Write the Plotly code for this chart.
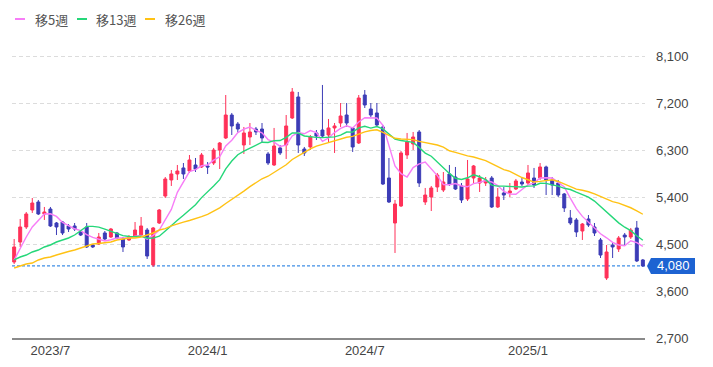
import pandas as pd
import plotly.graph_objects as go

# ---------------- data (weekly candles) ----------------
dates = pd.date_range("2023-05-22", periods=105, freq="7D")

opens = [4155, 4538, 4826, 5151, 5304, 5075, 5170, 4902, 4921, 4845,
         4845, 4730, 4826, 4481, 4500, 4711, 4634, 4711, 4596, 4577,
         4653, 4672, 4768, 4098, 4902, 5419, 5726, 5841, 5956, 5898,
         6013, 5975, 5994, 6051, 6300, 6530, 6970, 6798, 6396, 6549,
         6702, 6702, 6224, 6013, 6339, 6396, 6913, 7315, 6319, 6358,
         6626, 6683, 6587, 6722, 6817, 6970, 6722, 6434, 7353, 7085,
         7009, 6741, 5764, 4902, 5228, 6204, 6415, 6645, 5304, 5400,
         5592, 5534, 5841, 5783, 5611, 5362, 5764, 5668, 5668, 5764,
         5209, 5477, 5477, 5553, 5687, 5668, 5764, 5764, 5975, 5726,
         5668, 5458, 4998, 4960, 4749, 4979, 4826, 4577, 3849, 4481,
         4404, 4672, 4634, 4807, 4194]
highs = [4596, 4979, 5113, 5381, 5343, 5209, 5209, 4921, 4941, 4883,
         4902, 4768, 4902, 4500, 4711, 4749, 4807, 4730, 4634, 4672,
         4921, 5017, 4807, 4826, 5170, 5783, 5917, 6013, 6051, 6204,
         6147, 6243, 6070, 6339, 6453, 7353, 7009, 6836, 6741, 6817,
         6741, 6817, 6262, 6722, 6396, 6970, 7487, 7411, 6358, 6587,
         6683, 7545, 6894, 6817, 7200, 7200, 6741, 7353, 7449, 7200,
         7200, 6779, 6147, 5343, 6281, 6626, 6645, 6683, 5573, 5611,
         5860, 5879, 6013, 5975, 5668, 6109, 6013, 5821, 5783, 5802,
         5573, 5592, 5668, 5745, 5783, 6013, 5956, 6051, 6000, 5783,
         5726, 5477, 5151, 4998, 4902, 5055, 4902, 4615, 4481, 4519,
         4653, 4711, 4807, 4941, 4213]
lows = [4117, 4443, 4787, 5094, 5055, 4960, 4826, 4672, 4672, 4730,
        4749, 4653, 4424, 4424, 4481, 4577, 4615, 4596, 4347, 4558,
        4634, 4634, 4213, 4060, 4883, 5381, 5611, 5726, 5745, 5860,
        5879, 5956, 5841, 6013, 5936, 6511, 6587, 6626, 6224, 6396,
        6587, 6453, 6013, 5994, 6204, 6128, 6894, 6243, 6185, 6300,
        6492, 6530, 6453, 6243, 6741, 6741, 6262, 6415, 7104, 6932,
        6760, 5630, 5285, 4328, 5209, 6128, 6300, 5592, 5247, 5132,
        5496, 5496, 5611, 5534, 5285, 5324, 5668, 5496, 5611, 5190,
        5190, 5343, 5400, 5534, 5611, 5630, 5573, 5726, 5438, 5438,
        5400, 5113, 4864, 4634, 4577, 4826, 4653, 4232, 3811, 4232,
        4347, 4481, 4596, 4155, 4060]
closes = [4443, 4826, 5075, 5285, 5075, 5113, 4845, 4826, 4711, 4787,
          4787, 4672, 4443, 4443, 4634, 4596, 4787, 4615, 4443, 4634,
          4768, 4845, 4270, 4807, 5151, 5745, 5841, 5898, 5841, 6109,
          5936, 6204, 5975, 6300, 6434, 6970, 6760, 6702, 6626, 6645,
          6645, 6530, 6051, 6377, 6243, 6760, 7411, 6396, 6243, 6549,
          6568, 6568, 6722, 6760, 6951, 6817, 6358, 7296, 7162, 6970,
          6779, 5649, 5304, 5266, 6243, 6453, 6549, 5668, 5438, 5573,
          5821, 5687, 5649, 5553, 5343, 5745, 5994, 5764, 5726, 5209,
          5400, 5438, 5515, 5707, 5649, 5860, 5630, 5975, 5726, 5630,
          5438, 5190, 4902, 4730, 4883, 4864, 4711, 4289, 4347, 4443,
          4615, 4634, 4768, 4175, 4080]

# moving-average values at the start of the window (history before the chart)
ma5_lead = [4194, 4424, 4634, 4826]
ma13_lead = [4194, 4251, 4289, 4347, 4385, 4443, 4481, 4538, 4577, 4615,
             4672, 4749]
ma26_lead = [4040, 4079, 4117, 4136, 4194, 4232, 4251, 4289, 4328, 4357,
             4385, 4424, 4462, 4500, 4510, 4519, 4538, 4577, 4596, 4615,
             4615, 4634, 4672, 4711, 4768]

ma_names = ["移5週", "移13週", "移26週"]
y_ticks = [2700, 3600, 4500, 5400, 6300, 7200, 8100]
x_tick_dates = ["2023-07-03", "2024-01-01", "2024-07-01", "2025-01-06"]
x_tick_labels = ["2023/7", "2024/1", "2024/7", "2025/1"]
last_price = closes[-1]

# ---------------- styling ----------------
RED = "#ff3158"
BLUE = "#3c3cb6"
MA_COLORS = ["#f77df7", "#25d779", "#ffc214"]
PAGE = 8                      # default body margin of the html page
W, H = 713 - PAGE, 367 - PAGE
ML, MR, MT, MB = 12 - PAGE, 68, 40 - PAGE, 29
PW, PH = W - ML - MR, H - MT - MB


def moving_average(values, n, lead):
    s = pd.Series(values, dtype=float).rolling(n).mean()
    s.iloc[: n - 1] = lead
    return s.round(1).tolist()


ma_series = [moving_average(closes, 5, ma5_lead),
             moving_average(closes, 13, ma13_lead),
             moving_average(closes, 26, ma26_lead)]

fig = go.Figure()
fig.add_trace(go.Candlestick(
    x=dates, open=opens, high=highs, low=lows, close=closes,
    increasing=dict(line=dict(color=RED, width=1), fillcolor=RED),
    decreasing=dict(line=dict(color=BLUE, width=1), fillcolor=BLUE),
    whiskerwidth=0, showlegend=False, hoverinfo="skip"))

for name, vals, col in zip(ma_names, ma_series, MA_COLORS):
    fig.add_trace(go.Scatter(x=dates, y=vals, mode="lines", name=name,
                             line=dict(color=col, width=1.4),
                             showlegend=False, hoverinfo="skip"))

half = pd.Timedelta(days=2.5)
fig.update_layout(
    width=W, height=H,
    margin=dict(l=ML, r=MR, t=MT, b=MB, autoexpand=False),
    paper_bgcolor="white", plot_bgcolor="white",
    showlegend=False,
    xaxis=dict(type="date", range=[dates[0] - half, dates[-1] + half],
               tickvals=x_tick_dates, ticktext=x_tick_labels,
               showgrid=False, zeroline=False, ticks="",
               showline=True, linecolor="#8a8a8a", linewidth=1.5,
               tickfont=dict(family="Liberation Sans, Arial", size=13, color="#444"),
               rangeslider=dict(visible=False)),
    yaxis=dict(side="right", range=[2700, 2700 + PH * 900 / 47],
               tickvals=y_ticks, tickformat=",", ticks="",
               showgrid=True, gridcolor="#dcdcdc", griddash="4px,3px",
               zeroline=False, ticklabelstandoff=10,
               tickfont=dict(family="Liberation Sans, Arial", size=13, color="#444")),
)

# last price dashed line and label
fig.add_shape(type="line", xref="paper", x0=0, x1=1, yref="y",
              y0=last_price, y1=last_price, layer="below",
              line=dict(color="#3f8ee6", width=1.2, dash="3px,2px"))
fig.add_shape(type="path", xref="paper", xsizemode="pixel", xanchor=1,
              yref="y", ysizemode="pixel", yanchor=last_price,
              path="M2,0 L6,8 L50,8 L50,-8 L6,-8 Z",
              fillcolor="#1d63d2", line=dict(width=0))
fig.add_annotation(x=1, xref="paper", xanchor="center", xshift=28,
                   y=last_price, yref="y", yanchor="middle",
                   text=f"{last_price:,}", showarrow=False,
                   font=dict(family="Liberation Sans, Arial", size=13, color="white"))


# legend (top left); positions given in window pixels
def px_x(px):
    return (px - PAGE - ML) / PW


def px_y(py):
    return (H - MB - (py - PAGE)) / PH


legend_pos = [(15, 33), (77, 94), (145, 163)]
for (lx, tx), name, col in zip(legend_pos, ma_names, MA_COLORS):
    fig.add_shape(type="line", xref="paper", yref="paper",
                  x0=px_x(lx), x1=px_x(lx + 10), y0=px_y(19), y1=px_y(19),
                  line=dict(color=col, width=2))
    fig.add_annotation(xref="paper", yref="paper", x=px_x(tx), y=px_y(19),
                       xanchor="left", yanchor="middle", text=name, showarrow=False,
                       font=dict(family="Noto Sans CJK JP", size=13, color="#555"))

fig.write_html("out.html")
